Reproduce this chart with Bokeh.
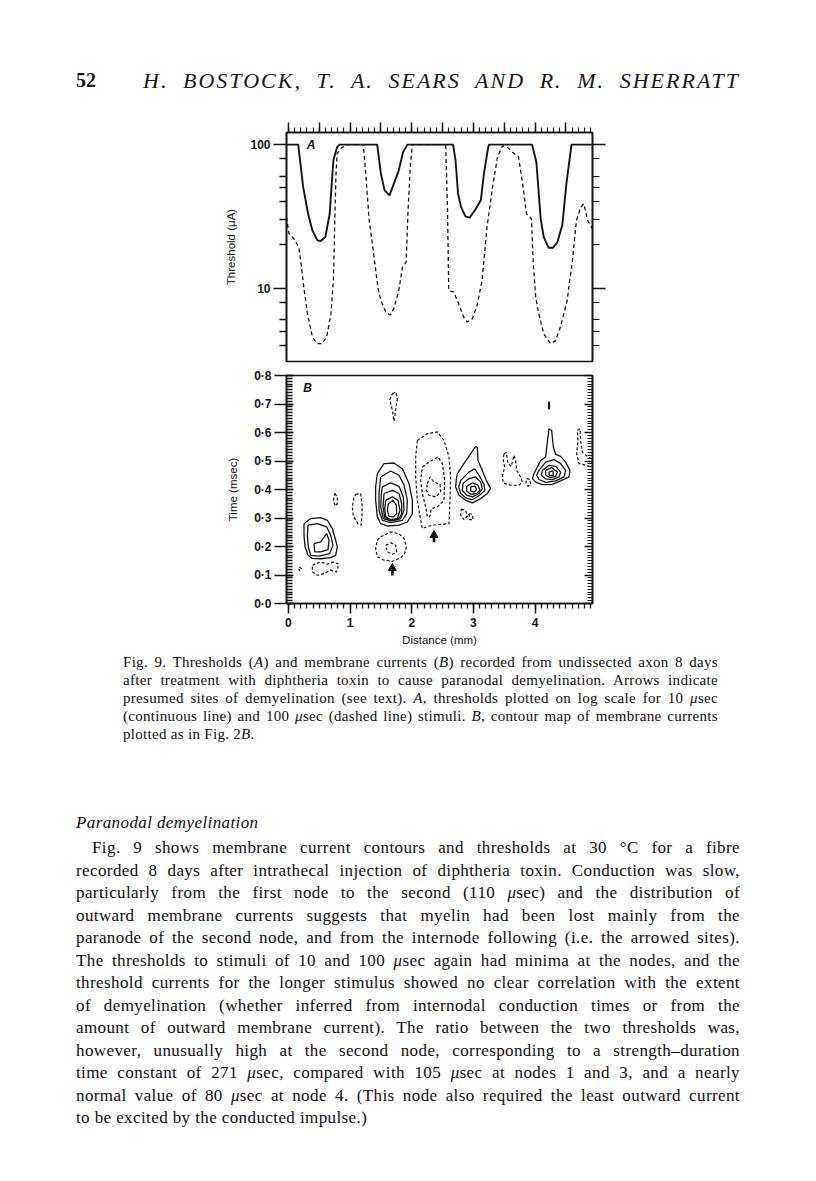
from bokeh.plotting import figure
from bokeh.models import (Range1d, LinearAxis, LogAxis, FixedTicker, SingleIntervalTicker,
                          CustomJSTickFormatter, Div)
from bokeh.layouts import column
from bokeh.embed import file_html
from bokeh.resources import INLINE
from bokeh.core.properties import value

# ---------------- Panel A : thresholds (log scale) ----------------
a_solid_x = [-0.03, 0.16, 0.24, 0.32, 0.39, 0.47, 0.525, 0.60, 0.67, 0.73, 0.79, 0.83,
             1.44, 1.50, 1.56, 1.64, 1.71, 1.79, 1.86, 1.93,
             2.67, 2.71, 2.75, 2.80, 2.87, 2.94, 3.04, 3.12, 3.17, 3.23, 3.25,
             3.95, 4.02, 4.09, 4.14, 4.22, 4.29, 4.36, 4.44, 4.51, 4.59, 4.93]
a_solid_y = [100, 100, 50.7, 33, 25.2, 21.5, 21.3, 22.7, 33, 77.8, 96, 100,
             100, 62.8, 48, 44.3, 53.5, 66.2, 89, 100,
             100, 77.8, 45.5, 36.7, 31.6, 31, 35.7, 40.9, 62.8, 91, 100,
             100, 75.7, 30.5, 22.7, 19.1, 19.1, 20.9, 27.4, 54.9, 100, 100]

a_dash_x = [-0.03, 0.01, 0.09, 0.17, 0.20, 0.25, 0.31, 0.39, 0.47, 0.55, 0.62, 0.69, 0.73,
            0.77, 0.79, 0.86, 0.96, 1.215, 1.25, 1.31, 1.39, 1.45, 1.50, 1.58, 1.65, 1.71,
            1.79, 1.85, 1.91, 1.94, 1.98, 2.01, 2.55, 2.58, 2.60, 2.68, 2.76, 2.84, 2.90,
            2.98, 3.06, 3.14, 3.17, 3.22, 3.31, 3.39, 3.47, 3.55, 3.63, 3.73, 3.79, 3.86,
            3.94, 3.97, 4.01, 4.06, 4.14, 4.25, 4.33, 4.41, 4.52, 4.56, 4.60, 4.67, 4.74,
            4.79, 4.85, 4.93]
a_dash_y = [31.3, 23.9, 22.1, 19.3, 15.6, 10.2, 6.6, 4.55, 4.1, 4.1, 4.55, 6.6, 11.3,
            59.5, 86.5, 95, 100, 100, 66.2, 29.7, 16.4, 10.2, 8.2, 6.8, 6.5, 7.2,
            9.6, 14, 15.2, 34.9, 73.7, 100, 100, 34.9, 9.6, 9.4, 7.8, 6.3, 5.8,
            6.1, 7.6, 11.3, 15.6, 26.7, 50.6, 82, 98, 96, 89, 82, 56.4, 33,
            30.5, 14.8, 8.6, 6.6, 4.8, 4.1, 4.3, 5.35, 8.2, 11.3, 14.8, 29.7, 36.7,
            38.7, 29.7, 25.9]

a_yticks = [10, 100]
a_yminor = [4, 5, 6, 8, 20, 30, 40, 50, 60, 80]
a_ytick_labels = ["10", "100"]

# ---------------- Panel B : contour map of membrane currents ----------------
# closed solid (outward current) contours: distance (mm), time (msec)
b_solid_x = [
    [0.254, 0.362, 0.524, 0.632, 0.713, 0.767, 0.794, 0.767, 0.686, 0.524, 0.389, 0.319, 0.270, 0.254],
    [0.319, 0.470, 0.621, 0.686, 0.724, 0.670, 0.497, 0.362, 0.324, 0.308],
    [0.416, 0.524, 0.621, 0.659, 0.643, 0.524, 0.427],
    [1.442, 1.551, 1.713, 1.848, 1.956, 2.010, 2.010, 1.929, 1.794, 1.605, 1.497, 1.442, 1.415, 1.415],
    [1.497, 1.659, 1.794, 1.875, 1.929, 1.918, 1.848, 1.659, 1.524, 1.469, 1.469],
    [1.524, 1.659, 1.794, 1.864, 1.875, 1.821, 1.659, 1.540, 1.497, 1.508],
    [1.551, 1.686, 1.794, 1.837, 1.837, 1.783, 1.659, 1.562, 1.535],
    [1.578, 1.686, 1.778, 1.810, 1.767, 1.659, 1.578, 1.562],
    [1.621, 1.697, 1.751, 1.756, 1.702, 1.632, 1.605],
    [2.739, 2.901, 3.036, 3.063, 3.074, 3.144, 3.209, 3.279, 3.225, 3.117, 2.982, 2.874, 2.766, 2.712, 2.723],
    [2.793, 2.928, 3.020, 3.090, 3.171, 3.187, 3.101, 2.982, 2.874, 2.793, 2.761],
    [2.831, 2.923, 3.036, 3.117, 3.144, 3.090, 2.982, 2.890, 2.820],
    [2.890, 2.982, 3.074, 3.106, 3.052, 2.955, 2.890],
    [2.955, 3.025, 3.052, 3.009, 2.955],
    [3.982, 4.090, 4.171, 4.198, 4.225, 4.268, 4.295, 4.333, 4.414, 4.495, 4.565, 4.549, 4.414, 4.279, 4.117, 4.009, 3.955],
    [4.063, 4.171, 4.306, 4.414, 4.495, 4.468, 4.333, 4.171, 4.063, 4.025],
    [4.117, 4.225, 4.333, 4.414, 4.387, 4.279, 4.171, 4.101],
    [4.171, 4.268, 4.360, 4.333, 4.241, 4.171],
    [4.225, 4.290, 4.295, 4.230],
    [4.218, 4.232, 4.232, 4.218],
]
b_solid_t = [
    [0.280, 0.298, 0.301, 0.292, 0.263, 0.222, 0.199, 0.169, 0.161, 0.157, 0.158, 0.169, 0.199, 0.239],
    [0.275, 0.280, 0.269, 0.239, 0.204, 0.175, 0.166, 0.169, 0.199, 0.239],
    [0.210, 0.216, 0.245, 0.222, 0.189, 0.181, 0.181],
    [0.456, 0.491, 0.493, 0.473, 0.421, 0.362, 0.315, 0.286, 0.275, 0.272, 0.280, 0.304, 0.362, 0.409],
    [0.444, 0.465, 0.450, 0.415, 0.362, 0.315, 0.292, 0.284, 0.292, 0.327, 0.386],
    [0.409, 0.423, 0.411, 0.374, 0.327, 0.298, 0.290, 0.298, 0.339, 0.386],
    [0.386, 0.397, 0.386, 0.350, 0.315, 0.294, 0.292, 0.301, 0.339],
    [0.362, 0.374, 0.362, 0.327, 0.298, 0.294, 0.304, 0.333],
    [0.350, 0.362, 0.345, 0.315, 0.304, 0.306, 0.327],
    [0.456, 0.508, 0.551, 0.547, 0.502, 0.467, 0.432, 0.403, 0.386, 0.368, 0.353, 0.362, 0.380, 0.409, 0.438],
    [0.432, 0.461, 0.473, 0.450, 0.418, 0.397, 0.380, 0.364, 0.371, 0.386, 0.409],
    [0.421, 0.438, 0.444, 0.426, 0.403, 0.386, 0.374, 0.380, 0.397],
    [0.411, 0.423, 0.415, 0.397, 0.386, 0.383, 0.395],
    [0.409, 0.412, 0.400, 0.391, 0.395],
    [0.456, 0.502, 0.514, 0.567, 0.613, 0.607, 0.549, 0.523, 0.516, 0.496, 0.467, 0.444, 0.430, 0.418, 0.417, 0.426, 0.438],
    [0.467, 0.496, 0.505, 0.491, 0.467, 0.444, 0.430, 0.425, 0.435, 0.450],
    [0.467, 0.485, 0.481, 0.461, 0.444, 0.435, 0.437, 0.450],
    [0.467, 0.477, 0.461, 0.446, 0.442, 0.450],
    [0.461, 0.465, 0.450, 0.449],
    [0.707, 0.707, 0.683, 0.683],
]

# closed dashed (inward current) contours
b_dash_x = [
    [0.178, 0.211, 0.189, 0.167],
    [0.389, 0.524, 0.632, 0.740, 0.816, 0.783, 0.686, 0.578, 0.470, 0.389],
    [0.751, 0.794, 0.794, 0.762, 0.729],
    [1.091, 1.172, 1.199, 1.183, 1.129, 1.053, 1.037, 1.064],
    [1.686, 1.740, 1.767, 1.745, 1.713, 1.681, 1.643],
    [1.497, 1.659, 1.794, 1.875, 1.913, 1.875, 1.794, 1.686, 1.551, 1.442, 1.415, 1.442],
    [1.578, 1.659, 1.740, 1.756, 1.686, 1.605],
    [2.091, 2.253, 2.415, 2.523, 2.604, 2.631, 2.620, 2.604, 2.415, 2.280, 2.172, 2.145, 2.091, 2.064, 2.064],
    [2.172, 2.280, 2.426, 2.496, 2.534, 2.523, 2.415, 2.318, 2.291, 2.253, 2.226, 2.172, 2.145],
    [2.253, 2.296, 2.361, 2.459, 2.469, 2.388, 2.280, 2.237],
    [2.804, 2.874, 2.901, 2.847, 2.793],
    [2.928, 2.982, 2.993, 2.939],
    [3.495, 3.533, 3.560, 3.614, 3.657, 3.684, 3.701, 3.765, 3.793, 3.738, 3.603, 3.484, 3.468, 3.506, 3.484],
    [3.863, 3.917, 3.928, 3.884, 3.852],
]
b_dash_t = [
    [0.128, 0.123, 0.114, 0.121],
    [0.134, 0.146, 0.138, 0.146, 0.138, 0.111, 0.117, 0.105, 0.099, 0.111],
    [0.386, 0.374, 0.350, 0.342, 0.362],
    [0.383, 0.386, 0.339, 0.275, 0.280, 0.306, 0.339, 0.371],
    [0.736, 0.742, 0.718, 0.689, 0.640, 0.683, 0.715],
    [0.234, 0.251, 0.245, 0.228, 0.199, 0.169, 0.158, 0.148, 0.152, 0.164, 0.193, 0.222],
    [0.204, 0.213, 0.204, 0.181, 0.173, 0.181],
    [0.572, 0.596, 0.602, 0.572, 0.514, 0.444, 0.362, 0.280, 0.277, 0.272, 0.263, 0.292, 0.362, 0.444, 0.514],
    [0.479, 0.496, 0.514, 0.491, 0.432, 0.362, 0.339, 0.333, 0.304, 0.304, 0.339, 0.386, 0.432],
    [0.421, 0.444, 0.426, 0.418, 0.391, 0.374, 0.380, 0.397],
    [0.331, 0.327, 0.306, 0.294, 0.310],
    [0.315, 0.313, 0.294, 0.294],
    [0.526, 0.530, 0.491, 0.481, 0.520, 0.502, 0.467, 0.444, 0.426, 0.415, 0.415, 0.423, 0.444, 0.479, 0.502],
    [0.438, 0.435, 0.418, 0.411, 0.423],
]

# dashed contour cut by the right edge of the map
b_edge_x = [4.916, 4.846, 4.765, 4.738, 4.727, 4.684, 4.695, 4.673, 4.711, 4.819, 4.916]
b_edge_t = [0.508, 0.516, 0.531, 0.572, 0.613, 0.607, 0.572, 0.526, 0.491, 0.485, 0.479]

# arrows marking presumed sites of demyelination
arrow_x = [1.686, 2.361]
arrow_t0 = [0.098, 0.215]
arrow_t1 = [0.124, 0.240]

b_yticks = [0.0, 0.1, 0.2, 0.3, 0.4, 0.5, 0.6, 0.7, 0.8]
b_ytick_labels = ["0·0", "0·1", "0·2", "0·3", "0·4", "0·5", "0·6", "0·7", "0·8"]

INK = "#141414"
SANS = "Liberation Sans"
SERIF = "Liberation Serif"

LABEL_JS = """
let best = 0, d = Infinity;
for (let i = 0; i < tvals.length; i++) {
  const e = Math.abs(tvals[i] - tick);
  if (e < d) { d = e; best = i; }
}
return tlabels[best];
"""


def closed(rings):
    return [r + r[:1] for r in rings]


def blank_axis(cls, ticker, **kw):
    return cls(ticker=ticker, major_label_text_font_size="1px", major_label_text_color=None,
               major_label_standoff=0, axis_line_color=INK, axis_line_width=1.6,
               major_tick_line_color=INK, major_tick_line_width=1.5,
               minor_tick_line_color=INK, minor_tick_line_width=1.2, **kw)


axis_text = dict(axis_label_text_font=SANS, axis_label_text_font_size="11.5px",
                 axis_label_text_font_style="normal", axis_label_text_color=INK,
                 major_label_text_font=SANS, major_label_text_font_size="12px",
                 major_label_text_font_style="bold", major_label_text_color=INK,
                 axis_line_color=INK, axis_line_width=1.6, major_tick_line_color=INK,
                 major_tick_line_width=1.5, minor_tick_line_color=INK, minor_tick_line_width=1.3)

# ---------------- Figure A ----------------
pA = figure(width=623, height=256, output_backend="svg", toolbar_location=None,
            x_range=Range1d(-0.03, 4.93), y_range=Range1d(3.08, 121.5),
            y_axis_type="log", x_axis_location=None, y_axis_location=None,
            min_border_left=286, min_border_right=31, min_border_top=20, min_border_bottom=7,
            background_fill_color="white", border_fill_color="white",
            outline_line_color=INK, outline_line_width=1.6, margin=(0, 0, 0, 0))
pA.grid.grid_line_color = None

axL = LogAxis(ticker=FixedTicker(ticks=a_yticks, minor_ticks=a_yminor),
              formatter=CustomJSTickFormatter(args=dict(tvals=a_yticks, tlabels=a_ytick_labels),
                                              code=LABEL_JS),
              major_tick_out=13, major_tick_in=0, minor_tick_out=7, minor_tick_in=0,
              major_label_standoff=3, axis_label="Threshold (μA)", axis_label_standoff=10,
              **axis_text)
pA.add_layout(axL, "left")
pA.add_layout(blank_axis(LogAxis, FixedTicker(ticks=a_yticks, minor_ticks=a_yminor),
                         major_tick_out=13, major_tick_in=0, minor_tick_out=7, minor_tick_in=0),
              "right")
pA.add_layout(blank_axis(LinearAxis, SingleIntervalTicker(interval=0.5, num_minor_ticks=5),
                         major_tick_out=10, major_tick_in=0, minor_tick_out=5, minor_tick_in=0),
              "above")

pA.line(a_solid_x, a_solid_y, line_color=INK, line_width=1.9)
pA.line(a_dash_x, a_dash_y, line_color=INK, line_width=1.3, line_dash="4 3")
pA.text(x=[0.30], y=[100], text=["A"], text_font=value(SANS), text_font_size="12px",
        text_font_style="bold italic", text_color=INK, text_baseline="middle")

# ---------------- Figure B ----------------
pB = figure(width=623, height=285, output_backend="svg", toolbar_location=None,
            x_range=Range1d(-0.03, 4.93), y_range=Range1d(0.0, 0.8),
            x_axis_location=None, y_axis_location=None,
            min_border_left=286, min_border_right=31, min_border_top=7, min_border_bottom=50,
            background_fill_color="white", border_fill_color="white",
            outline_line_color=INK, outline_line_width=1.6, margin=(0, 0, 0, 0))
pB.grid.grid_line_color = None

minor_b = [round(i * 0.01, 2) for i in range(81)]
bL = LinearAxis(ticker=FixedTicker(ticks=b_yticks, minor_ticks=minor_b),
                formatter=CustomJSTickFormatter(args=dict(tvals=b_yticks, tlabels=b_ytick_labels),
                                                code=LABEL_JS),
                major_tick_out=12, major_tick_in=7, minor_tick_out=0, minor_tick_in=6,
                major_label_standoff=3, axis_label="Time (msec)", axis_label_standoff=12,
                **axis_text)
pB.add_layout(bL, "left")
pB.add_layout(blank_axis(LinearAxis, FixedTicker(ticks=b_yticks, minor_ticks=minor_b),
                         major_tick_out=0, major_tick_in=8, minor_tick_out=0, minor_tick_in=5),
              "right")

bB = LinearAxis(ticker=SingleIntervalTicker(interval=1, num_minor_ticks=10),
                major_tick_out=10, major_tick_in=0, minor_tick_out=5, minor_tick_in=0,
                major_label_standoff=4, axis_label="Distance (mm)", axis_label_standoff=4,
                **axis_text)
pB.add_layout(bB, "below")

pB.multi_line(xs=closed(b_solid_x), ys=closed(b_solid_t), line_color=INK, line_width=1.3)
pB.multi_line(xs=closed(b_dash_x), ys=closed(b_dash_t), line_color=INK, line_width=1.2,
              line_dash="3 2")
pB.line(b_edge_x, b_edge_t, line_color=INK, line_width=1.2, line_dash="3 2")

pB.segment(x0=arrow_x, y0=arrow_t0, x1=arrow_x, y1=arrow_t1, line_color=INK, line_width=2.6)
pB.scatter(x=arrow_x, y=arrow_t1, marker="triangle", size=8, fill_color=INK, line_color=INK)
pB.text(x=[0.24], y=[0.755], text=["B"], text_font=value(SANS), text_font_size="12px",
        text_font_style="bold italic", text_color=INK, text_baseline="middle")

# ---------------- Text ----------------
J = "display:block;white-space:nowrap;text-align:justify;text-align-last:justify;"
L = "display:block;white-space:nowrap;text-align:left;"

head_html = (
    f'<div style="position:relative;width:816px;height:112px;font-family:\'{SERIF}\',serif;color:{INK};">'
    '<span style="position:absolute;left:76px;top:66px;font-size:20px;font-weight:bold;">52</span>'
    f'<span style="position:absolute;left:143px;top:65px;width:597px;font-size:22px;'
    f'letter-spacing:2px;font-style:italic;{J}">'
    'H. BOSTOCK, T. A. SEARS AND R. M. SHERRATT</span></div>'
)
head_div = Div(text=head_html, width=816, height=112, margin=(0, 0, 0, 0))

caption_lines = [
    "Fig. 9. Thresholds (<i>A</i>) and membrane currents (<i>B</i>) recorded from undissected axon 8 days",
    "after treatment with diphtheria toxin to cause paranodal demyelination. Arrows indicate",
    "presumed sites of demyelination (see text). <i>A</i>, thresholds plotted on log scale for 10 <i>μ</i>sec",
    "(continuous line) and 100 <i>μ</i>sec (dashed line) stimuli. <i>B</i>, contour map of membrane currents",
    "plotted as in Fig. 2<i>B</i>.",
]
body_lines = [
    "Fig. 9 shows membrane current contours and thresholds at 30 °C for a fibre",
    "recorded 8 days after intrathecal injection of diphtheria toxin. Conduction was slow,",
    "particularly from the first node to the second (110 <i>μ</i>sec) and the distribution of",
    "outward membrane currents suggests that myelin had been lost mainly from the",
    "paranode of the second node, and from the internode following (i.e. the arrowed sites).",
    "The thresholds to stimuli of 10 and 100 <i>μ</i>sec again had minima at the nodes, and the",
    "threshold currents for the longer stimulus showed no clear correlation with the extent",
    "of demyelination (whether inferred from internodal conduction times or from the",
    "amount of outward membrane current). The ratio between the two thresholds was,",
    "however, unusually high at the second node, corresponding to a strength–duration",
    "time constant of 271 <i>μ</i>sec, compared with 105 <i>μ</i>sec at nodes 1 and 3, and a nearly",
    "normal value of 80 <i>μ</i>sec at node 4. (This node also required the least outward current",
    "to be excited by the conducted impulse.)",
]

cap_html = "".join(
    f'<span style="{L if i == len(caption_lines) - 1 else J}">{s}</span>'
    for i, s in enumerate(caption_lines))
body_html = "".join(
    f'<span style="{L if i == len(body_lines) - 1 else J}'
    f'{"padding-left:16px;" if i == 0 else ""}">{s}</span>'
    for i, s in enumerate(body_lines))

text_html = (
    f'<div style="position:relative;width:816px;height:520px;font-family:\'{SERIF}\',serif;color:#0e0e0e;">'
    f'<div style="position:absolute;left:123px;top:0px;width:595px;font-size:15px;line-height:18px;'
    f'letter-spacing:0.3px;">{cap_html}</div>'
    '<div style="position:absolute;left:76px;top:159px;font-size:17px;line-height:22px;font-style:italic;'
    'letter-spacing:0.4px;">Paranodal demyelination</div>'
    f'<div style="position:absolute;left:76px;top:184px;width:664px;font-size:17px;line-height:22.5px;'
    f'letter-spacing:0.4px;">{body_html}</div>'
    '</div>'
)
text_div = Div(text=text_html, width=816, height=520, margin=(0, 0, 0, 0))

page = column(head_div, pA, pB, text_div, spacing=0)

open("out.html", "w").write(file_html(page, INLINE))
